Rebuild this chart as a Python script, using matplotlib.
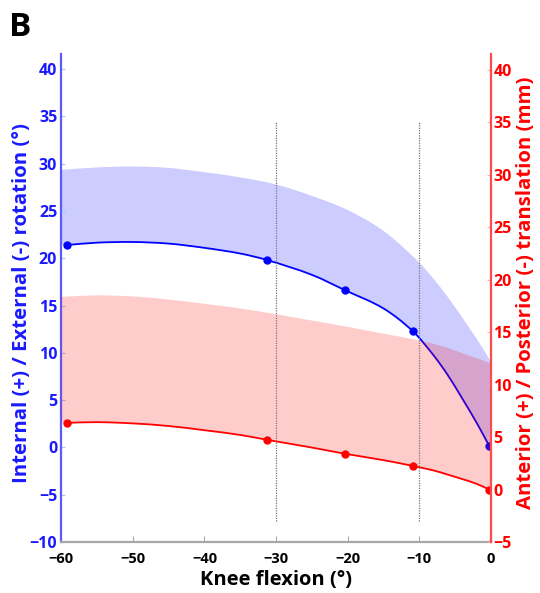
import matplotlib
matplotlib.use("Agg")
import matplotlib.pyplot as plt
from matplotlib.path import Path
from matplotlib.patches import PathPatch

plt.rcParams['font.family'] = ['Open Sans', 'DejaVu Sans']
plt.rcParams['font.weight'] = 'bold'

# measured points (knee flexion, deg)
knee = [-59.2, -31.2, -20.3, -10.9, -0.2]
rot_mean = [21.4, 19.8, 16.6, 12.3, 0.15]      # left axis, deg
trans_mean = [6.35, 4.73, 3.4, 2.25, 0.0]      # right axis, mm

# smooth mean curves
curve_x = [-59.2, -55, -50, -45, -40, -35, -31.2, -25, -20.3, -15, -10.9, -8, -6, -4, -2, -0.2]
rot_curve = [21.4, 21.65, 21.72, 21.55, 21.1, 20.5, 19.8, 18.25, 16.6, 14.7, 12.3, 9.75, 7.65, 5.2, 2.65, 0.15]
trans_curve = [6.35, 6.42, 6.3, 6.05, 5.65, 5.2, 4.73, 4.0, 3.4, 2.8, 2.25, 1.82, 1.42, 1.0, 0.55, 0.0]

# shaded bands (mean -> mean + SD)
band_x = [-60, -55, -50, -45, -40, -35, -30, -25, -20, -15, -10, -7, -5, -3, -1.5, 0]
rot_lo = [21.4, 21.65, 21.72, 21.55, 21.1, 20.5, 19.55, 18.25, 16.5, 14.7, 11.55, 8.7, 6.45, 3.93, 1.95, 0.0]
rot_hi = [29.35, 29.6, 29.7, 29.55, 29.1, 28.55, 27.8, 26.6, 25.1, 22.9, 19.55, 16.9, 14.85, 12.65, 10.95, 9.1]
trans_lo = [6.35, 6.42, 6.3, 6.05, 5.65, 5.2, 4.65, 4.0, 3.38, 2.8, 2.1, 1.62, 1.21, 0.78, 0.44, 0.0]
trans_hi = [18.35, 18.5, 18.4, 18.1, 17.7, 17.25, 16.7, 16.1, 15.5, 14.85, 14.2, 13.7, 13.25, 12.75, 12.4, 12.0]

vline_x = [-30, -10]
xticks = [-60, -50, -40, -30, -20, -10, 0]
left_ticks = [-10, -5, 0, 5, 10, 15, 20, 25, 30, 35, 40]
right_ticks = [-5, 0, 5, 10, 15, 20, 25, 30, 35, 40]


def hermite(x, y):
    # bezier segments through the read points (for drawing only)
    n = len(x)
    m = []
    for i in range(n):
        a = max(i - 1, 0)
        b = min(i + 1, n - 1)
        m.append((y[b] - y[a]) / (x[b] - x[a]))
    verts = [(x[0], y[0])]
    for i in range(n - 1):
        h = x[i + 1] - x[i]
        verts += [(x[i] + h / 3, y[i] + m[i] * h / 3),
                  (x[i + 1] - h / 3, y[i + 1] - m[i + 1] * h / 3),
                  (x[i + 1], y[i + 1])]
    return verts


def smooth_line(a, x, y, color):
    v = hermite(x, y)
    codes = [Path.MOVETO] + [Path.CURVE4] * (len(v) - 1)
    a.add_patch(PathPatch(Path(v, codes), fill=False, edgecolor=color, lw=1.3))


def smooth_band(a, x, lo, hi, color):
    up = hermite(x, hi)
    dn = hermite(x[::-1], lo[::-1])
    v = up + dn + [up[0]]
    codes = ([Path.MOVETO] + [Path.CURVE4] * (len(up) - 1) + [Path.LINETO]
             + [Path.CURVE4] * (len(dn) - 1) + [Path.CLOSEPOLY])
    a.add_patch(PathPatch(Path(v, codes), facecolor=color, alpha=0.2, lw=0))


fig = plt.figure(figsize=(5.4, 5.93), dpi=100)
ax = fig.add_axes([0.1137, 0.086, 0.795, 0.823])
ax2 = ax.twinx()

blue = '#0000ff'
red = '#ff0000'

smooth_band(ax, band_x, rot_lo, rot_hi, blue)
smooth_line(ax, curve_x, rot_curve, blue)
ax.plot(knee, rot_mean, 'o', color=blue, ms=5)

smooth_band(ax2, band_x, trans_lo, trans_hi, red)
smooth_line(ax2, curve_x, trans_curve, red)
ax2.plot(knee, trans_mean, 'o', color=red, ms=5)
ax2.vlines(vline_x, -3, 35, colors='#777777', linestyles=(0, (1, 1)), lw=0.9)

ax.set_xlim(-60, 0)
ax.set_ylim(-10, 41.6)
ax2.set_ylim(-5, 41.5)
ax.set_xticks(xticks)
ax.set_yticks(left_ticks)
ax2.set_yticks(right_ticks)

for a in (ax, ax2):
    a.spines['top'].set_visible(False)
ax.spines['right'].set_visible(False)
ax2.spines['left'].set_visible(False)
ax2.spines['bottom'].set_visible(False)
ax.spines['left'].set_color('#5a5aff')
ax.spines['left'].set_linewidth(1.6)
ax2.spines['right'].set_color('#ff4a4a')
ax2.spines['right'].set_linewidth(1.6)
ax.spines['bottom'].set_color('#a8a8a8')
ax.spines['bottom'].set_linewidth(1.6)

ax.tick_params(axis='y', direction='in', length=3, color='#9fc8ff', labelcolor='#1a1aff',
               labelsize=11.5, pad=3)
ax2.tick_params(axis='y', direction='in', length=3, color='#ffb0b0', labelcolor=red,
                labelsize=11.5, pad=2)
ax.tick_params(axis='x', direction='in', length=4, color='#a8a8a8', labelcolor='black',
               labelsize=10.5, pad=7)

ax.set_xlabel('Knee flexion (°)', fontsize=14.5, fontweight='bold', labelpad=3)
ax.set_ylabel('Internal (+) / External (-) rotation (°)', fontsize=14.7, fontweight='bold',
              color='#1a1aff')
ax2.set_ylabel('Anterior (+) / Posterior (-) translation (mm)', fontsize=14.7, fontweight='bold',
               color=red, rotation=90)
ax.yaxis.set_label_coords(-0.068, 0.489)
ax2.yaxis.set_label_coords(1.059, 0.511)

fig.text(0.017, 0.982, 'B', fontsize=24, fontweight='bold', va='top', ha='left')

fig.savefig('out.png', dpi=100)
